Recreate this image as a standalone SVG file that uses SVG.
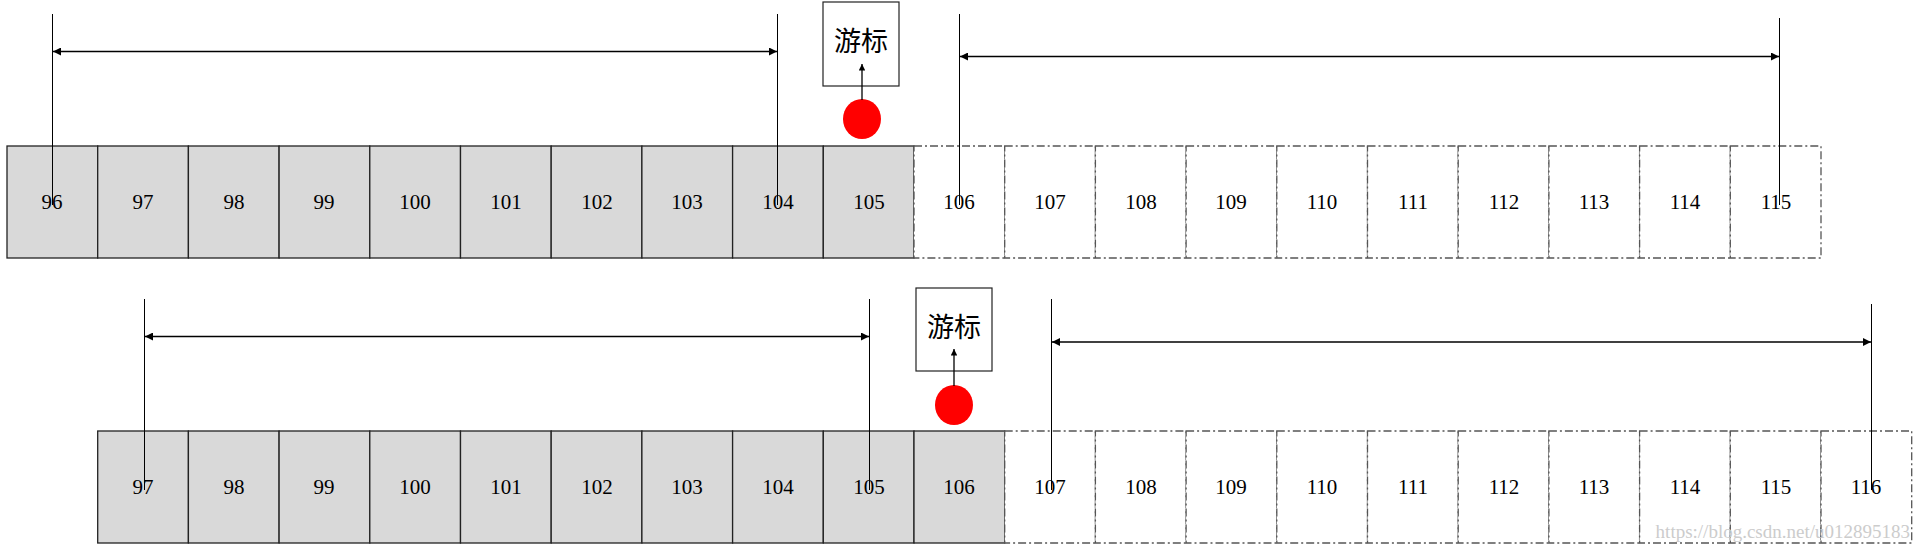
<svg xmlns="http://www.w3.org/2000/svg" width="1921" height="552" viewBox="0 0 1921 552">
<style>
.s{fill:#d9d9d9;stroke:#222;stroke-width:1.3}
.d{fill:#fff;stroke:#555;stroke-width:1.3;stroke-dasharray:8 3 2 3}
.t{font-family:"Liberation Serif",serif;font-size:21px;text-anchor:middle;fill:#000}
.c{font-family:"Liberation Serif","Noto Sans CJK SC",serif;font-size:27px;text-anchor:middle;fill:#000}
.v{stroke:#000;stroke-width:1}
.h{stroke:#000;stroke-width:1.6;marker-start:url(#a);marker-end:url(#a)}
.u{stroke:#000;stroke-width:1.3;marker-end:url(#a)}
</style>
<defs>
<marker id="a" viewBox="0 0 10 10" refX="10" refY="5" markerWidth="5" markerHeight="5" orient="auto-start-reverse"><path d="M0,0L10,5L0,10z" fill="#000"/></marker>
</defs>
<rect width="1921" height="552" fill="#fff"/>
<g id="row1">
<rect class="s" x="7" y="146" width="90.7" height="112"/><text class="t" x="52" y="209">96</text>
<rect class="s" x="97.7" y="146" width="90.7" height="112"/><text class="t" x="143" y="209">97</text>
<rect class="s" x="188.4" y="146" width="90.7" height="112"/><text class="t" x="234" y="209">98</text>
<rect class="s" x="279.1" y="146" width="90.7" height="112"/><text class="t" x="324" y="209">99</text>
<rect class="s" x="369.8" y="146" width="90.7" height="112"/><text class="t" x="415" y="209">100</text>
<rect class="s" x="460.5" y="146" width="90.7" height="112"/><text class="t" x="506" y="209">101</text>
<rect class="s" x="551.2" y="146" width="90.7" height="112"/><text class="t" x="597" y="209">102</text>
<rect class="s" x="641.9" y="146" width="90.7" height="112"/><text class="t" x="687" y="209">103</text>
<rect class="s" x="732.6" y="146" width="90.7" height="112"/><text class="t" x="778" y="209">104</text>
<rect class="s" x="823.3" y="146" width="90.7" height="112"/><text class="t" x="869" y="209">105</text>
<rect class="d" x="914" y="146" width="90.7" height="112"/><text class="t" x="959" y="209">106</text>
<rect class="d" x="1004.7" y="146" width="90.7" height="112"/><text class="t" x="1050" y="209">107</text>
<rect class="d" x="1095.4" y="146" width="90.7" height="112"/><text class="t" x="1141" y="209">108</text>
<rect class="d" x="1186.1" y="146" width="90.7" height="112"/><text class="t" x="1231" y="209">109</text>
<rect class="d" x="1276.8" y="146" width="90.7" height="112"/><text class="t" x="1322" y="209">110</text>
<rect class="d" x="1367.5" y="146" width="90.7" height="112"/><text class="t" x="1413" y="209">111</text>
<rect class="d" x="1458.2" y="146" width="90.7" height="112"/><text class="t" x="1504" y="209">112</text>
<rect class="d" x="1548.9" y="146" width="90.7" height="112"/><text class="t" x="1594" y="209">113</text>
<rect class="d" x="1639.6" y="146" width="90.7" height="112"/><text class="t" x="1685" y="209">114</text>
<rect class="d" x="1730.3" y="146" width="90.7" height="112"/><text class="t" x="1776" y="209">115</text>
</g>
<g id="row2">
<rect class="s" x="97.7" y="431" width="90.7" height="112"/><text class="t" x="143" y="494">97</text>
<rect class="s" x="188.4" y="431" width="90.7" height="112"/><text class="t" x="234" y="494">98</text>
<rect class="s" x="279.1" y="431" width="90.7" height="112"/><text class="t" x="324" y="494">99</text>
<rect class="s" x="369.8" y="431" width="90.7" height="112"/><text class="t" x="415" y="494">100</text>
<rect class="s" x="460.5" y="431" width="90.7" height="112"/><text class="t" x="506" y="494">101</text>
<rect class="s" x="551.2" y="431" width="90.7" height="112"/><text class="t" x="597" y="494">102</text>
<rect class="s" x="641.9" y="431" width="90.7" height="112"/><text class="t" x="687" y="494">103</text>
<rect class="s" x="732.6" y="431" width="90.7" height="112"/><text class="t" x="778" y="494">104</text>
<rect class="s" x="823.3" y="431" width="90.7" height="112"/><text class="t" x="869" y="494">105</text>
<rect class="s" x="914" y="431" width="90.7" height="112"/><text class="t" x="959" y="494">106</text>
<rect class="d" x="1004.7" y="431" width="90.7" height="112"/><text class="t" x="1050" y="494">107</text>
<rect class="d" x="1095.4" y="431" width="90.7" height="112"/><text class="t" x="1141" y="494">108</text>
<rect class="d" x="1186.1" y="431" width="90.7" height="112"/><text class="t" x="1231" y="494">109</text>
<rect class="d" x="1276.8" y="431" width="90.7" height="112"/><text class="t" x="1322" y="494">110</text>
<rect class="d" x="1367.5" y="431" width="90.7" height="112"/><text class="t" x="1413" y="494">111</text>
<rect class="d" x="1458.2" y="431" width="90.7" height="112"/><text class="t" x="1504" y="494">112</text>
<rect class="d" x="1548.9" y="431" width="90.7" height="112"/><text class="t" x="1594" y="494">113</text>
<rect class="d" x="1639.6" y="431" width="90.7" height="112"/><text class="t" x="1685" y="494">114</text>
<rect class="d" x="1730.3" y="431" width="90.7" height="112"/><text class="t" x="1776" y="494">115</text>
<rect class="d" x="1821" y="431" width="90.7" height="112"/><text class="t" x="1866" y="494">116</text>
</g>
<g id="cursor1">
<rect x="823" y="2" width="76" height="84" fill="#fff" stroke="#222" stroke-width="1.2"/>
<text class="c" x="861" y="51">游标</text>
<ellipse cx="862" cy="119" rx="19" ry="20" fill="#f00"/>
</g>
<g id="cursor2">
<rect x="916" y="288" width="76" height="83" fill="#fff" stroke="#222" stroke-width="1.2"/>
<text class="c" x="954" y="337">游标</text>
<ellipse cx="954" cy="405" rx="19" ry="20" fill="#f00"/>
</g>
<g id="connectors">
<line class="v" x1="52.5" y1="14" x2="52.5" y2="205"/>
<line class="v" x1="777.5" y1="14" x2="777.5" y2="205"/>
<line class="h" x1="53" y1="51.5" x2="777" y2="51.5"/>
<line class="v" x1="959.5" y1="14" x2="959.5" y2="205"/>
<line class="v" x1="1779.5" y1="18" x2="1779.5" y2="205"/>
<line class="h" x1="960" y1="56.5" x2="1779" y2="56.5"/>
<line class="u" x1="862" y1="100" x2="862" y2="64"/>
<line class="v" x1="144.5" y1="299" x2="144.5" y2="490"/>
<line class="v" x1="869.5" y1="299" x2="869.5" y2="490"/>
<line class="h" x1="145" y1="336.5" x2="869" y2="336.5"/>
<line class="v" x1="1051.5" y1="299" x2="1051.5" y2="490"/>
<line class="v" x1="1871.5" y1="304" x2="1871.5" y2="490"/>
<line class="h" x1="1052" y1="342" x2="1871" y2="342"/>
<line class="u" x1="954" y1="386" x2="954" y2="349"/>
</g>
<text x="1910" y="538" font-family="Liberation Serif,serif" font-size="19" fill="#ccc" text-anchor="end">https://blog.csdn.net/u012895183</text>
</svg>
